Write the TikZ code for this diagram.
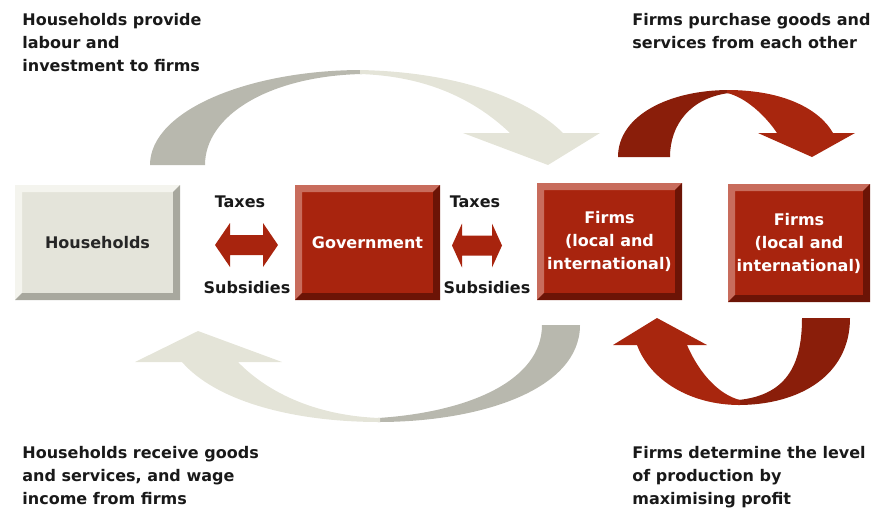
\documentclass[tikz,border=0pt]{standalone}
\usepackage{fontspec}
\setmainfont{DejaVu Sans}
\usetikzlibrary{positioning,calc}
\definecolor{boxred}{RGB}{168,36,14}
\definecolor{redlight}{RGB}{200,108,92}
\definecolor{reddark}{RGB}{108,20,6}
\definecolor{hhfill}{RGB}{228,228,218}
\definecolor{hhlight}{RGB}{244,244,238}
\definecolor{hhdark}{RGB}{168,168,158}
\definecolor{greydark}{RGB}{184,184,174}
\definecolor{greylight}{RGB}{228,228,216}
\definecolor{arrdark}{RGB}{138,30,10}
\definecolor{arrred}{RGB}{168,38,14}
\tikzset{
  txt/.style={font=\bfseries\fontsize{8}{11.5}\selectfont, text=black!90, inner sep=0pt},
  bevel/.style 2 args={path picture={
    \fill[#1] (path picture bounding box.south west) -- (path picture bounding box.north west)
      -- (path picture bounding box.north east) -- ([xshift=-3.5pt,yshift=-3.5pt]path picture bounding box.north east)
      -- ([xshift=3.5pt,yshift=-3.5pt]path picture bounding box.north west) -- ([xshift=3.5pt,yshift=3.5pt]path picture bounding box.south west) -- cycle;
    \fill[#2] (path picture bounding box.south west) -- (path picture bounding box.south east)
      -- (path picture bounding box.north east) -- ([xshift=-3.5pt,yshift=-3.5pt]path picture bounding box.north east)
      -- ([xshift=-3.5pt,yshift=3.5pt]path picture bounding box.south east) -- ([xshift=3.5pt,yshift=3.5pt]path picture bounding box.south west) -- cycle;
  }},
  redbox/.style={txt, fill=boxred, text=white, align=center, bevel={redlight}{reddark}},
  hhbox/.style={txt, fill=hhfill, text=black!85, align=center, bevel={hhlight}{hhdark}}
}
\begin{document}
\begin{tikzpicture}[x=0.5pt,y=-0.5pt]
  \useasboundingbox (0,0) rectangle (872,510);
  % Boxes
  \node[hhbox, minimum width=82.5pt, minimum height=57.5pt] (hh) at (97.5,242.5) {Households};
  \node[redbox, minimum width=72.5pt, minimum height=57.5pt] (gov) at (367.5,242.5) {Government};
  \node[redbox, minimum width=72.5pt, minimum height=58.5pt] (firmsA) at (609.5,241.5) {Firms\\(local and\\international)};
  \node[redbox, minimum width=71pt, minimum height=59pt] (firmsB) at (799,243) {Firms\\(local and\\international)};
  % Taxes and subsidies
  \node[txt] (taxA) at (240,202) {Taxes};
  \node[txt] (subA) at (247,288) {Subsidies};
  \node[txt] (taxB) at (475,202) {Taxes};
  \node[txt] (subB) at (487,288) {Subsidies};
  \coordinate (dblA) at (246.5,245);
  \coordinate (dblB) at (477,245.5);
  \fill[boxred] (dblA) ++(-31.5,0) -- ++(15,-22) -- ++(0,12) -- ++(33,0) -- ++(0,-12) -- ++(15,22)
    -- ++(-15,22) -- ++(0,-12) -- ++(-33,0) -- ++(0,12) -- cycle;
  \fill[boxred] (dblB) ++(-25,0) -- ++(10,-22) -- ++(0,12) -- ++(30,0) -- ++(0,-12) -- ++(10,22)
    -- ++(-10,22) -- ++(0,-12) -- ++(-30,0) -- ++(0,12) -- cycle;
  % Captions
  \node[txt, anchor=north west, align=left] (capHH) at (22,13) {Households provide\\labour and\\investment to firms};
  \node[txt, anchor=north west, align=left] (capFP) at (632,13) {Firms purchase goods and\\services from each other};
  \node[txt, anchor=north west, align=left] (capHR) at (22,446) {Households receive goods\\and services, and wage\\income from firms};
  \node[txt, anchor=north west, align=left] (capFD) at (632,446) {Firms determine the level\\of production by\\maximising profit};
  % Grey arrow, top
  \fill[greydark] (150,165) .. controls (150,110) and (250,70) .. (362,70)
    -- (362,74) .. controls (270,76) and (205,115) .. (205,165) -- cycle;
  \fill[greylight] (360,70) .. controls (460,72) and (530,100) .. (563,133) -- (600,133) -- (548,165)
    -- (463,133) -- (510,133) .. controls (470,95) and (420,76) .. (360,74) -- cycle;
  % Grey arrow, bottom
  \fill[greydark] (580,325) .. controls (580,390) and (480,422) .. (378,422)
    -- (378,418) .. controls (470,412) and (542,380) .. (542,325) -- cycle;
  \fill[greylight] (380,422) .. controls (290,422) and (215,400) .. (182,362) -- (135,362) -- (198,331)
    -- (282,362) -- (238,362) .. controls (270,395) and (320,416) .. (380,418) -- cycle;
  % Red arrow, top
  \fill[arrdark] (618,157) .. controls (618,115) and (670,90) .. (729,90)
    -- (729,93) .. controls (690,98) and (670,125) .. (670,157) -- cycle;
  \fill[arrred] (727,90) .. controls (785,90) and (820,110) .. (833,133) -- (855,133) -- (812,157)
    -- (758,133) -- (777,133) .. controls (765,115) and (745,97) .. (727,93) -- cycle;
  % Red arrow, bottom
  \fill[arrdark] (850,318) .. controls (850,375) and (800,405) .. (738,405)
    -- (738,400) .. controls (790,395) and (802,360) .. (802,318) -- cycle;
  \fill[arrred] (740,405) .. controls (690,405) and (650,380) .. (637,345) -- (613,345) -- (657,318)
    -- (707,345) -- (687,345) .. controls (700,375) and (720,395) .. (740,400) -- cycle;
\end{tikzpicture}
\end{document}
